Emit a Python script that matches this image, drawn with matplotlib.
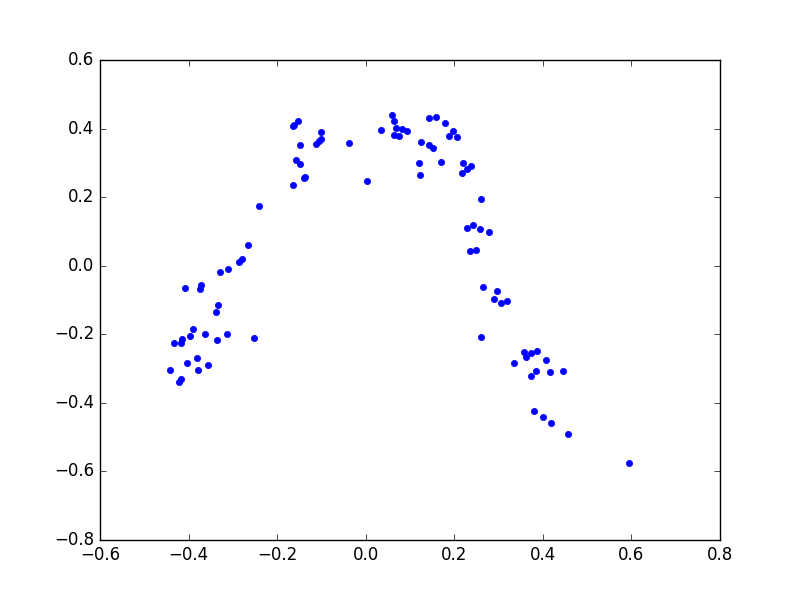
import matplotlib
matplotlib.use("Agg")
import matplotlib.pyplot as plt

# points
x = [-0.328, -0.310, -0.407, -0.373, -0.375, -0.333, -0.339, -0.389, -0.362, -0.314,
     -0.253, -0.396, -0.414, -0.416, -0.434, -0.335, -0.403, -0.382, -0.357, -0.378,
     -0.443, -0.416, -0.421, -0.240, -0.265, -0.280, -0.287, -0.152, -0.163, -0.165,
     -0.100, -0.102, -0.106, -0.113, -0.149, -0.038, -0.158, -0.149, -0.136, -0.140,
     -0.165, 0.002, 0.034, 0.059, 0.063, 0.068, 0.081, 0.093, 0.063, 0.075,
     0.143, 0.158, 0.179, 0.197, 0.188, 0.206, 0.124, 0.143, 0.152, 0.120,
     0.170, 0.122, 0.219, 0.238, 0.228, 0.217, 0.260, 0.228, 0.242, 0.258,
     0.278, 0.235, 0.249, 0.265, 0.296, 0.290, 0.305, 0.319, 0.260, 0.357,
     0.373, 0.387, 0.362, 0.335, 0.407, 0.385, 0.373, 0.416, 0.446, 0.380,
     0.400, 0.418, 0.457, 0.595]
y = [-0.018, -0.010, -0.064, -0.056, -0.067, -0.114, -0.135, -0.185, -0.199, -0.199,
     -0.211, -0.205, -0.214, -0.226, -0.226, -0.217, -0.284, -0.269, -0.290, -0.305,
     -0.305, -0.331, -0.340, 0.173, 0.059, 0.021, 0.012, 0.422, 0.410, 0.407,
     0.390, 0.369, 0.363, 0.354, 0.351, 0.357, 0.308, 0.296, 0.258, 0.255,
     0.234, 0.246, 0.395, 0.439, 0.422, 0.401, 0.398, 0.392, 0.381, 0.378,
     0.431, 0.434, 0.416, 0.392, 0.378, 0.375, 0.360, 0.351, 0.343, 0.299,
     0.302, 0.264, 0.299, 0.290, 0.281, 0.269, 0.196, 0.111, 0.120, 0.108,
     0.097, 0.044, 0.047, -0.062, -0.073, -0.097, -0.108, -0.103, -0.208, -0.252,
     -0.255, -0.249, -0.267, -0.284, -0.275, -0.308, -0.322, -0.310, -0.308, -0.425,
     -0.442, -0.460, -0.492, -0.574]

plt.style.use('classic')
fig = plt.figure(figsize=(8, 6), dpi=100)
ax = fig.add_subplot(111)
ax.plot(x, y, 'o', color='b', mec='b', ms=4.5, mew=0.5)
ax.set_xlim(-0.6, 0.8)
ax.set_ylim(-0.8, 0.6)

plt.savefig("out.png", dpi=100)
